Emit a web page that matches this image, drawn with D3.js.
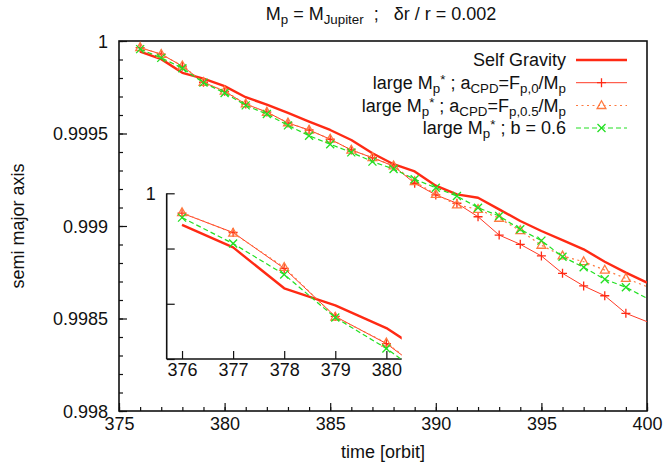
<!DOCTYPE html>
<html><head><meta charset="utf-8">
<script src="https://cdn.jsdelivr.net/npm/d3@7"></script>
<style>body{margin:0;background:#fff}svg{display:block}text{font-family:"Liberation Sans",Arial,sans-serif;fill:#111;white-space:pre}</style>
</head><body><svg id="c" width="666" height="467"></svg>
<script>
const orbits = [376,377,378,379,380,381,382,383,384,385,386,387,388,389,390,391,392,393,394,395,396,397,398,399,400];
const selfGravity = [0.999943,0.999902,0.999828,0.999797,0.999756,0.999696,0.999656,0.999611,0.999564,0.999519,0.999465,0.999393,0.999334,0.999295,0.999218,0.999171,0.999153,0.999090,0.999027,0.998973,0.998924,0.998874,0.998807,0.998748,0.998694];
const largeF0 = [0.999964,0.999929,0.999864,0.999777,0.999728,0.999659,0.999616,0.999557,0.999519,0.999469,0.999411,0.999369,0.999324,0.999231,0.999168,0.999123,0.999050,0.998951,0.998901,0.998838,0.998744,0.998676,0.998623,0.998528,0.998483];
const largeF05 = [0.999965,0.999928,0.999866,0.999776,0.999729,0.999660,0.999615,0.999558,0.999518,0.999470,0.999410,0.999370,0.999325,0.999240,0.999171,0.999114,0.999090,0.999042,0.998975,0.998896,0.998838,0.998807,0.998762,0.998717,0.998672];
const largeB06 = [0.999956,0.999909,0.999853,0.999775,0.999719,0.999652,0.999605,0.999544,0.999488,0.999442,0.999398,0.999348,0.999308,0.999253,0.999207,0.999162,0.999099,0.999054,0.998982,0.998921,0.998834,0.998777,0.998712,0.998669,0.998609];

const xMajorTicks = [375,380,385,390,395,400];
const yMajorTicks = [0.998,0.9985,0.999,0.9995,1];
const yTickLabels = ["0.998","0.9985","0.999","0.9995","1"];
const insetXTicks = [376,377,378,379,380];
const insetYTicks = [0.9997,0.9998,0.9999,1];

const titleParts = [["M",""],["p","sub"],[" = M",""],["Jupiter","sub"],["  ;   δr / r = 0.002",""]];
const xLabel = "time [orbit]";
const yLabel = "semi major axis";

const series = [
  {name:[["Self Gravity",""]], values:selfGravity, color:"#ff2a14", width:2.4, dash:null, marker:null},
  {name:[["large M",""],["p","sub"],["*","sup"],[" ; a",""],["CPD","sub"],["=F",""],["p,0","sub"],["/M",""],["p","sub"]], values:largeF0, color:"#ff3a26", width:1, dash:null, marker:"plus"},
  {name:[["large M",""],["p","sub"],["*","sup"],[" ; a",""],["CPD","sub"],["=F",""],["p,0.5","sub"],["/M",""],["p","sub"]], values:largeF05, color:"#ff7a40", width:1.2, dash:"2,3.5", marker:"tri"},
  {name:[["large M",""],["p","sub"],["*","sup"],[" ; b = 0.6",""]], values:largeB06, color:"#22e022", width:1.2, dash:"5,3", marker:"cross"}
];

const svg = d3.select("#c");
const FS = 18;

function rich(sel, parts, fs){
  let off = 0;
  parts.forEach(([t,m])=>{
    let target = m==="sub"?4:(m==="sup"?-5:0);
    sel.append("tspan").attr("dy", target-off).attr("font-size", m? fs*0.74 : fs).text(t);
    off = target;
  });
}

const markerPaths = {
  plus:"M-4.5,0H4.5M0,-4.5V4.5",
  tri:"M0,-4.8L4.4,3L-4.4,3Z",
  cross:"M-4,-4L4,4M-4,4L4,-4"
};

// main scales
const x = d3.scaleLinear([375,400],[119,647]);
const y = d3.scaleLinear([0.998,1],[411,41]);

const defs = svg.append("defs");
defs.append("clipPath").attr("id","mainClip").append("rect")
  .attr("x",x(375)).attr("y",y(1)).attr("width",x(400)-x(375)).attr("height",y(0.998)-y(1));

// main axes
const gx = svg.append("g").attr("transform",`translate(0,${y(0.998)})`)
  .call(d3.axisBottom(x).tickValues(d3.range(375,401,1)).tickSize(-4).tickFormat(""));
const gx2 = svg.append("g").attr("transform",`translate(0,${y(0.998)})`)
  .call(d3.axisBottom(x).tickValues(xMajorTicks).tickSize(-8).tickPadding(15).tickFormat(d3.format("d")));
const gy = svg.append("g").attr("transform",`translate(${x(375)},0)`)
  .call(d3.axisLeft(y).tickValues(d3.range(0,21).map(i=>0.998+i*0.0001)).tickSize(-4).tickFormat(""));
const gy2 = svg.append("g").attr("transform",`translate(${x(375)},0)`)
  .call(d3.axisLeft(y).tickValues(yMajorTicks).tickSize(-8).tickPadding(11).tickFormat((d,i)=>yTickLabels[i]));
[gx,gx2,gy,gy2].forEach(g=>{
  g.select(".domain").remove();
  g.selectAll(".tick line").attr("stroke","#111").attr("stroke-width",1.2);
  g.selectAll(".tick text").filter(function(){return this.textContent==="";}).remove();
  g.selectAll(".tick text").attr("font-size",FS).attr("font-family",'"Liberation Sans",Arial,sans-serif').attr("fill","#111");
});
gx2.selectAll(".tick text").attr("dy","0.2em");
gy2.selectAll(".tick text").attr("dy","0.35em");

svg.append("rect").attr("x",x(375)).attr("y",y(1)).attr("width",x(400)-x(375)).attr("height",y(0.998)-y(1))
  .attr("fill","none").attr("stroke","#111").attr("stroke-width",1.6);

// labels
const tt = svg.append("text").attr("x",381).attr("y",20).attr("text-anchor","middle").attr("font-size",FS);
rich(tt,titleParts,FS);
svg.append("text").attr("x",383).attr("y",458).attr("text-anchor","middle").attr("font-size",FS).text(xLabel);
svg.append("text").attr("transform",`translate(24,226) rotate(-90)`).attr("text-anchor","middle").attr("font-size",FS).text(yLabel);

function drawSeries(g, xs, ys, filterPts){
  series.forEach(s=>{
    const pts = orbits.map((t,i)=>[t,s.values[i]]);
    const line = d3.line().x(d=>xs(d[0])).y(d=>ys(d[1]));
    g.append("path").attr("d",line(pts)).attr("fill","none").attr("stroke",s.color)
      .attr("stroke-width",s.width).attr("stroke-dasharray",s.dash).attr("stroke-linejoin","round");
    if(s.marker){
      g.selectAll(null).data(pts.filter(filterPts)).enter().append("path")
        .attr("d",markerPaths[s.marker]).attr("transform",d=>`translate(${xs(d[0])},${ys(d[1])})`)
        .attr("fill","none").attr("stroke",s.marker==="plus"?"#ff2a14":s.color).attr("stroke-width",1.3);
    }
  });
}

const mainG = svg.append("g").attr("clip-path","url(#mainClip)");
drawSeries(mainG, x, y, d=>d[0]<400);

// inset
const xi = d3.scaleLinear([375.7,380.3],[166.7,401.7]);
const yi = d3.scaleLinear([0.9997,1],[359,193.3]);
defs.append("clipPath").attr("id","insetClip").append("rect")
  .attr("x",xi(375.7)).attr("y",yi(1)-2).attr("width",xi(380.3)-xi(375.7)).attr("height",yi(0.9997)-yi(1)+2);
const ix = svg.append("g").attr("transform",`translate(0,${yi(0.9997)})`)
  .call(d3.axisBottom(xi).tickValues(insetXTicks).tickSize(-8).tickPadding(13).tickFormat(d3.format("d")));
const iy = svg.append("g").attr("transform",`translate(${xi(375.7)},0)`)
  .call(d3.axisLeft(yi).tickValues(insetYTicks).tickSize(-8).tickPadding(11).tickFormat(d=>d===1?"1":""));
[ix,iy].forEach(g=>{
  g.select(".domain").attr("stroke","#111").attr("stroke-width",1.6);
  g.selectAll(".tick line").attr("stroke","#111").attr("stroke-width",1.2);
  g.selectAll(".tick text").filter(function(){return this.textContent==="";}).remove();
  g.selectAll(".tick text").attr("font-size",FS).attr("font-family",'"Liberation Sans",Arial,sans-serif').attr("fill","#111");
});
ix.select(".domain").attr("d",`M${xi(375.7)},0H${xi(380.3)}`);
iy.select(".domain").attr("d",`M0,${yi(1)}V${yi(0.9997)}`);
ix.selectAll(".tick text").attr("dy","0.2em");
iy.selectAll(".tick text").attr("dy","0.35em");
const insetG = svg.append("g").attr("clip-path","url(#insetClip)");
drawSeries(insetG, xi, yi, d=>true);

// legend
const legRowY = [60,82.7,105.5,128];
series.forEach((s,i)=>{
  const ly = legRowY[i];
  const t = svg.append("text").attr("x",566).attr("y",ly+6).attr("text-anchor","end").attr("font-size",FS);
  rich(t,s.name,FS);
  svg.append("line").attr("x1",576).attr("x2",627).attr("y1",ly).attr("y2",ly).attr("stroke",s.color)
    .attr("stroke-width",s.width).attr("stroke-dasharray",s.dash);
  if(s.marker){
    svg.append("path").attr("d",markerPaths[s.marker]).attr("transform",`translate(601.5,${ly})`)
      .attr("fill","none").attr("stroke",s.marker==="plus"?"#ff2a14":s.color).attr("stroke-width",1.3);
  }
});
</script></body></html>
